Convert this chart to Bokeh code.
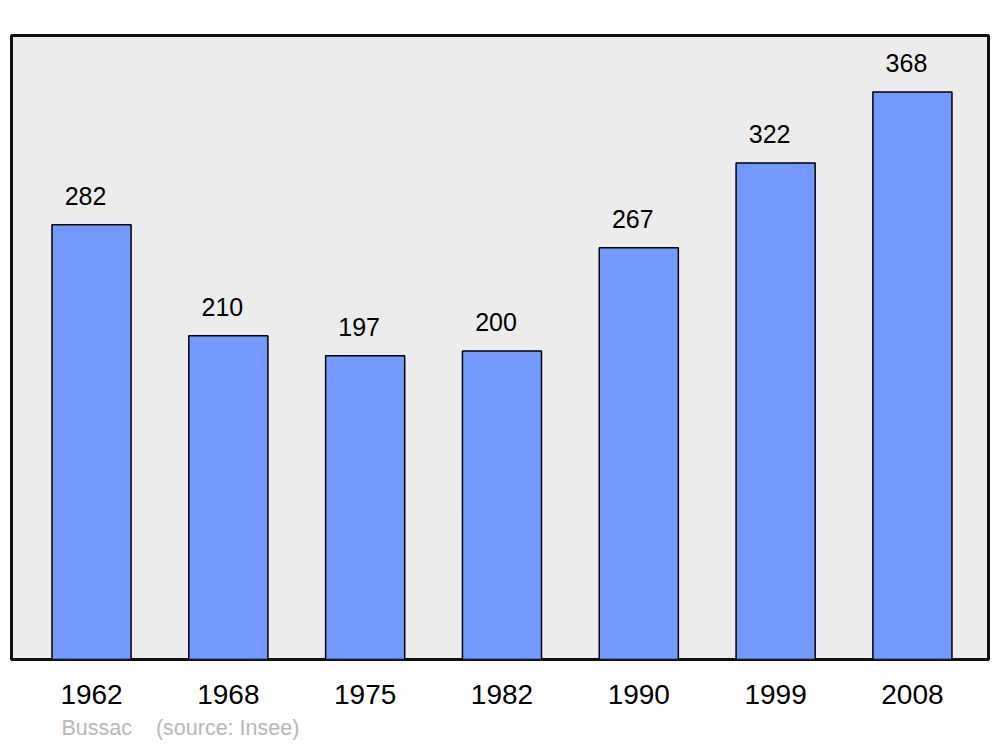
from bokeh.plotting import figure
from bokeh.models import ColumnDataSource, Range1d, FixedTicker, Title
from bokeh.embed import file_html
from bokeh.resources import INLINE
from bokeh.core.properties import value

years = ["1962", "1968", "1975", "1982", "1990", "1999", "2008"]
population = [282, 210, 197, 200, 267, 322, 368]
commune = "Bussac"
source_note = "(source: Insee)"

idx = list(range(len(years)))
src = ColumnDataSource(dict(x=idx, top=population, label=[str(v) for v in population]))

X0, X1 = -0.585, 6.556
Y1 = 404.7
p = figure(width=1000, height=747, output_backend="svg", toolbar_location=None,
           x_range=Range1d(X0, X1), y_range=Range1d(0, Y1),
           min_border_left=11, min_border_right=12, min_border_top=35, min_border_bottom=88)

p.background_fill_color = "#ececec"
p.border_fill_color = "white"
p.outline_line_color = "#111111"
p.outline_line_width = 3
p.grid.visible = False
p.yaxis.visible = False

p.vbar(x="x", top="top", width=0.578, bottom=0, source=src,
       fill_color="#7399ff", line_color="black", line_width=1.5)

p.text(x="x", y="top", text="label", source=src, x_offset=-6, y_offset=-29,
       text_align="center", text_baseline="alphabetic",
       text_font=value("Liberation Sans"), text_font_size="25px", text_color="black")

ax = p.xaxis[0]
ax.ticker = FixedTicker(ticks=idx)
ax.major_label_overrides = {i: y for i, y in zip(idx, years)}
ax.axis_line_color = None
ax.major_tick_line_color = None
ax.minor_tick_line_color = None
ax.major_tick_out = 0
ax.major_tick_in = 0
ax.major_label_standoff = 25
ax.major_label_text_font = "Liberation Sans"
ax.major_label_text_font_size = "28px"
ax.major_label_text_color = "black"

note = Title(text=commune + "\u00a0" * 4 + source_note, align="left", offset=50, standoff=15,
             text_font="Liberation Sans", text_font_size="21.5px", text_font_style="normal",
             text_color="#b8b8b8")
p.add_layout(note, "below")

open("out.html", "w").write(file_html(p, INLINE))
